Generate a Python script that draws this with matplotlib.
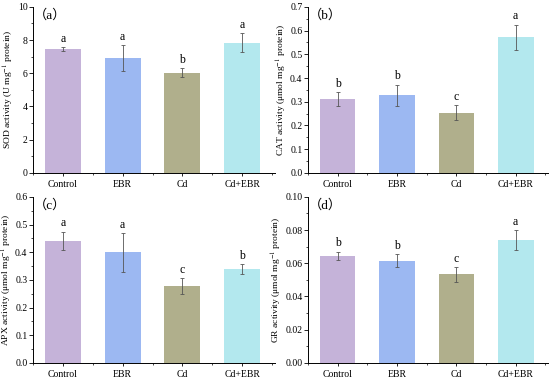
import matplotlib
matplotlib.use("Agg")
import matplotlib.pyplot as plt
from matplotlib.ticker import MultipleLocator, AutoMinorLocator, FormatStrFormatter

categories = ["Control", "EBR", "Cd", "Cd+EBR"]
colors = ["#C5B3D9", "#9CB8F2", "#B0AF8C", "#B3E8EE"]

sod = [7.45, 6.90, 6.03, 7.84]
sod_err = [0.13, 0.78, 0.28, 0.57]
sod_letters = ["a", "a", "b", "a"]

cat = [0.311, 0.327, 0.254, 0.571]
cat_err = [0.028, 0.045, 0.032, 0.054]
cat_letters = ["b", "b", "c", "a"]

apx = [0.441, 0.399, 0.278, 0.339]
apx_err = [0.032, 0.070, 0.028, 0.017]
apx_letters = ["a", "a", "c", "b"]

gr = [0.0643, 0.0615, 0.0533, 0.0739]
gr_err = [0.0025, 0.0040, 0.0044, 0.0060]
gr_letters = ["b", "b", "c", "a"]

panels = [
    ("（a）", sod, sod_err, sod_letters, "SOD activity (U mg$^{-1}$ protein)", 10, 2, "%d"),
    ("（b）", cat, cat_err, cat_letters, "CAT activity (μmol mg$^{-1}$ protein)", 0.7, 0.1, "%.1f"),
    ("（c）", apx, apx_err, apx_letters, "APX activity (μmol mg$^{-1}$ protein)", 0.6, 0.1, "%.1f"),
    ("（d）", gr, gr_err, gr_letters, "GR activity (μmol mg$^{-1}$ protein)", 0.10, 0.02, "%.2f"),
]

plt.rcParams['font.family'] = ['Liberation Serif', 'Noto Sans CJK SC', 'DejaVu Sans']
plt.rcParams['mathtext.fontset'] = 'stix'

fig = plt.figure(figsize=(5.5, 3.8), dpi=100)
boxes = [
    (0.060, 0.545, 0.440, 0.437),
    (0.560, 0.545, 0.437, 0.437),
    (0.060, 0.045, 0.440, 0.437),
    (0.560, 0.045, 0.437, 0.437),
]

for box, (lab, vals, errs, letters, ylabel, ymax, step, fmt) in zip(boxes, panels):
    ax = fig.add_axes(box)
    x = range(len(categories))
    ax.bar(x, vals, width=0.6, color=colors, zorder=2)
    ax.errorbar(x, vals, yerr=errs, fmt='none', ecolor='#555555', elinewidth=0.6,
                capsize=1.5, capthick=0.6, zorder=3)
    for xi, v, e, l in zip(x, vals, errs, letters):
        ax.text(xi, v + e + ymax * 0.015, l, ha='center', va='bottom', fontsize=8.5)
    ax.set_xlim(-0.5, 3.55)
    ax.set_ylim(0, ymax)
    ax.set_xticks(list(x))
    ax.set_xticklabels(categories, fontsize=7)
    ax.xaxis.set_minor_locator(MultipleLocator(0.5))
    ax.yaxis.set_major_locator(MultipleLocator(step))
    ax.yaxis.set_minor_locator(AutoMinorLocator(2))
    ax.yaxis.set_major_formatter(FormatStrFormatter(fmt))
    ax.tick_params(axis='y', labelsize=7, length=3, width=0.6, direction='out', pad=1)
    ax.tick_params(axis='x', length=2.5, width=0.6, direction='out', pad=2.5)
    ax.tick_params(which='minor', length=1.5, width=0.5)
    ax.set_ylabel(ylabel, fontsize=6.8, labelpad=1)
    for s in ['top', 'right']:
        ax.spines[s].set_visible(False)
    for s in ['left', 'bottom']:
        ax.spines[s].set_linewidth(0.7)
    ax.text(0.005, 0.95, lab, transform=ax.transAxes, fontsize=9.5, ha='left', va='center')

fig.savefig("out.png", dpi=100)
